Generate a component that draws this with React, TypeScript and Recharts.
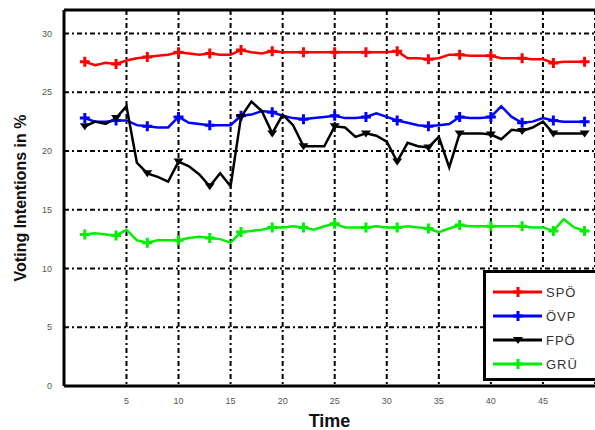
import React from 'react';
import {
  CartesianGrid,
  Line,
  LineChart,
  ReferenceLine,
  XAxis,
  YAxis,
} from 'recharts';

const time = [
  1, 2, 3, 4, 5, 6, 7, 8, 9, 10, 11, 12, 13, 14, 15, 16, 17, 18, 19, 20, 21, 22, 23, 24, 25,
  26, 27, 28, 29, 30, 31, 32, 33, 34, 35, 36, 37, 38, 39, 40, 41, 42, 43, 44, 45, 46, 47, 48, 49,
];

const spo = [
  27.6, 27.3, 27.5, 27.4, 27.7, 27.9, 28.0, 28.1, 28.2, 28.4, 28.3, 28.2, 28.3, 28.2, 28.2, 28.6,
  28.4, 28.3, 28.5, 28.4, 28.4, 28.4, 28.4, 28.4, 28.4, 28.4, 28.4, 28.4, 28.4, 28.4, 28.5, 27.9,
  27.9, 27.8, 27.9, 28.2, 28.2, 28.1, 28.1, 28.1, 27.9, 27.9, 27.9, 27.8, 27.8, 27.5, 27.6, 27.6,
  27.6,
];

const ovp = [
  22.8, 22.5, 22.5, 22.6, 22.6, 22.2, 22.1, 22.0, 22.0, 22.9, 22.4, 22.3, 22.2, 22.2, 22.2, 23.0,
  23.1, 23.4, 23.3, 23.0, 22.8, 22.7, 22.8, 22.9, 23.0, 22.8, 22.8, 22.9, 23.2, 22.9, 22.6, 22.4,
  22.2, 22.1, 22.2, 22.3, 22.9, 22.8, 22.8, 22.9, 23.8, 22.9, 22.4, 22.5, 22.8, 22.6, 22.5, 22.5,
  22.5,
];

const fpo = [
  22.1, 22.5, 22.3, 22.8, 23.8, 19.0, 18.1, 17.8, 17.4, 19.1, 18.7, 18.0, 17.0, 18.1, 17.0, 22.9,
  24.2, 23.4, 21.5, 23.1, 22.2, 20.4, 20.4, 20.4, 22.1, 22.0, 21.2, 21.5, 21.3, 20.8, 19.1, 20.7,
  20.4, 20.3, 21.2, 18.6, 21.5, 21.5, 21.5, 21.4, 21.0, 21.8, 21.7, 22.0, 22.5, 21.5, 21.5, 21.5,
  21.5,
];

const gru = [
  12.9, 13.0, 12.9, 12.8, 13.3, 12.4, 12.2, 12.4, 12.4, 12.4, 12.6, 12.7, 12.6, 12.5, 12.2, 13.1,
  13.2, 13.3, 13.5, 13.5, 13.6, 13.5, 13.3, 13.6, 13.8, 13.5, 13.5, 13.5, 13.6, 13.5, 13.5, 13.6,
  13.5, 13.4, 13.1, 13.4, 13.7, 13.6, 13.6, 13.6, 13.6, 13.6, 13.6, 13.5, 13.5, 13.2, 14.2, 13.5,
  13.2,
];

const xTicks = [5, 10, 15, 20, 25, 30, 35, 40, 45];
const yTicks = [0, 5, 10, 15, 20, 25, 30];

const parties = [
  { key: 'spo', name: 'SPÖ', color: '#ff0000' },
  { key: 'ovp', name: 'ÖVP', color: '#0000ff' },
  { key: 'fpo', name: 'FPÖ', color: '#000000' },
  { key: 'gru', name: 'GRÜ', color: '#00ee00' },
];

const data = time.map((t, i) => ({ t, spo: spo[i], ovp: ovp[i], fpo: fpo[i], gru: gru[i] }));

function Marker({ cx, cy, color, party }: { cx: number; cy: number; color: string; party: string }) {
  if (party === 'fpo') {
    return <path d={`M${cx - 5},${cy - 3} L${cx + 5},${cy - 3} L${cx},${cy + 4} Z`} fill={color} />;
  }
  return (
    <path
      d={`M${cx - 5},${cy} L${cx + 5},${cy} M${cx},${cy - 5} L${cx},${cy + 5}`}
      stroke={color}
      strokeWidth={3}
      fill="none"
    />
  );
}

function markerDot(color: string, party: string) {
  return (props: any) => {
    const { cx, cy, index } = props;
    if (index % 3 !== 0 || cx == null || cy == null) return <g key={`d-${party}-${index}`} />;
    return (
      <g key={`d-${party}-${index}`}>
        <Marker cx={cx} cy={cy} color={color} party={party} />
      </g>
    );
  };
}

function LegendBox() {
  return (
    <div
      style={{
        position: 'absolute',
        left: 483,
        top: 270,
        width: 115,
        height: 111,
        border: '3px solid #000',
        background: '#fff',
        boxSizing: 'border-box',
        fontFamily: 'Arial, "Liberation Sans", sans-serif',
        fontSize: 13,
        paddingTop: 7,
      }}
    >
      {parties.map((p) => (
        <div key={p.key} style={{ display: 'flex', alignItems: 'center', height: 24 }}>
          <svg width={53} height={14} style={{ marginLeft: 7 }}>
            <line x1={0} y1={7} x2={49} y2={7} stroke={p.color} strokeWidth={3} />
            <Marker cx={25} cy={7} color={p.color} party={p.key} />
          </svg>
          <span style={{ color: '#333', letterSpacing: 1 }}>{p.name}</span>
        </div>
      ))}
    </div>
  );
}

export default function App() {
  return (
    <div style={{ position: 'absolute', left: 0, top: 0, width: 595, height: 430, background: '#fff' }}>
      <LineChart width={595} height={430} data={data} margin={{ top: 10, right: 0, left: 0, bottom: 0 }}>
        <CartesianGrid stroke="#000" strokeWidth={2} strokeDasharray="5 3 2 3" />
        <XAxis
          dataKey="t"
          type="number"
          domain={[-1, 50]}
          ticks={xTicks}
          allowDataOverflow
          height={44}
          stroke="#000"
          strokeWidth={3}
          tickLine={false}
          tick={{ fill: '#555', fontSize: 9, fontFamily: 'Arial, sans-serif' }}
          tickMargin={6}
          label={{
            value: 'Time',
            position: 'insideBottom',
            offset: 3,
            style: { fill: '#111', fontSize: 18, fontWeight: 'bold', fontFamily: 'Arial, sans-serif' },
          }}
        />
        <YAxis
          type="number"
          domain={[0, 32]}
          ticks={yTicks}
          allowDataOverflow
          width={64}
          stroke="#000"
          strokeWidth={3}
          tickLine={false}
          tick={{ fill: '#555', fontSize: 9, fontFamily: 'Arial, sans-serif' }}
          tickMargin={6}
          label={{
            value: 'Voting Intentions in %',
            angle: -90,
            position: 'insideLeft',
            offset: 20,
            style: {
              textAnchor: 'middle',
              fill: '#111',
              fontSize: 16,
              fontWeight: 'bold',
              fontFamily: 'Arial, sans-serif',
            },
          }}
        />
        <ReferenceLine y={32} stroke="#000" strokeWidth={3} />
        {parties.map((p) => (
          <Line
            key={p.key}
            type="linear"
            dataKey={p.key}
            name={p.name}
            stroke={p.color}
            strokeWidth={2.5}
            dot={markerDot(p.color, p.key)}
            activeDot={false}
            isAnimationActive={false}
          />
        ))}
      </LineChart>
      <LegendBox />
    </div>
  );
}
